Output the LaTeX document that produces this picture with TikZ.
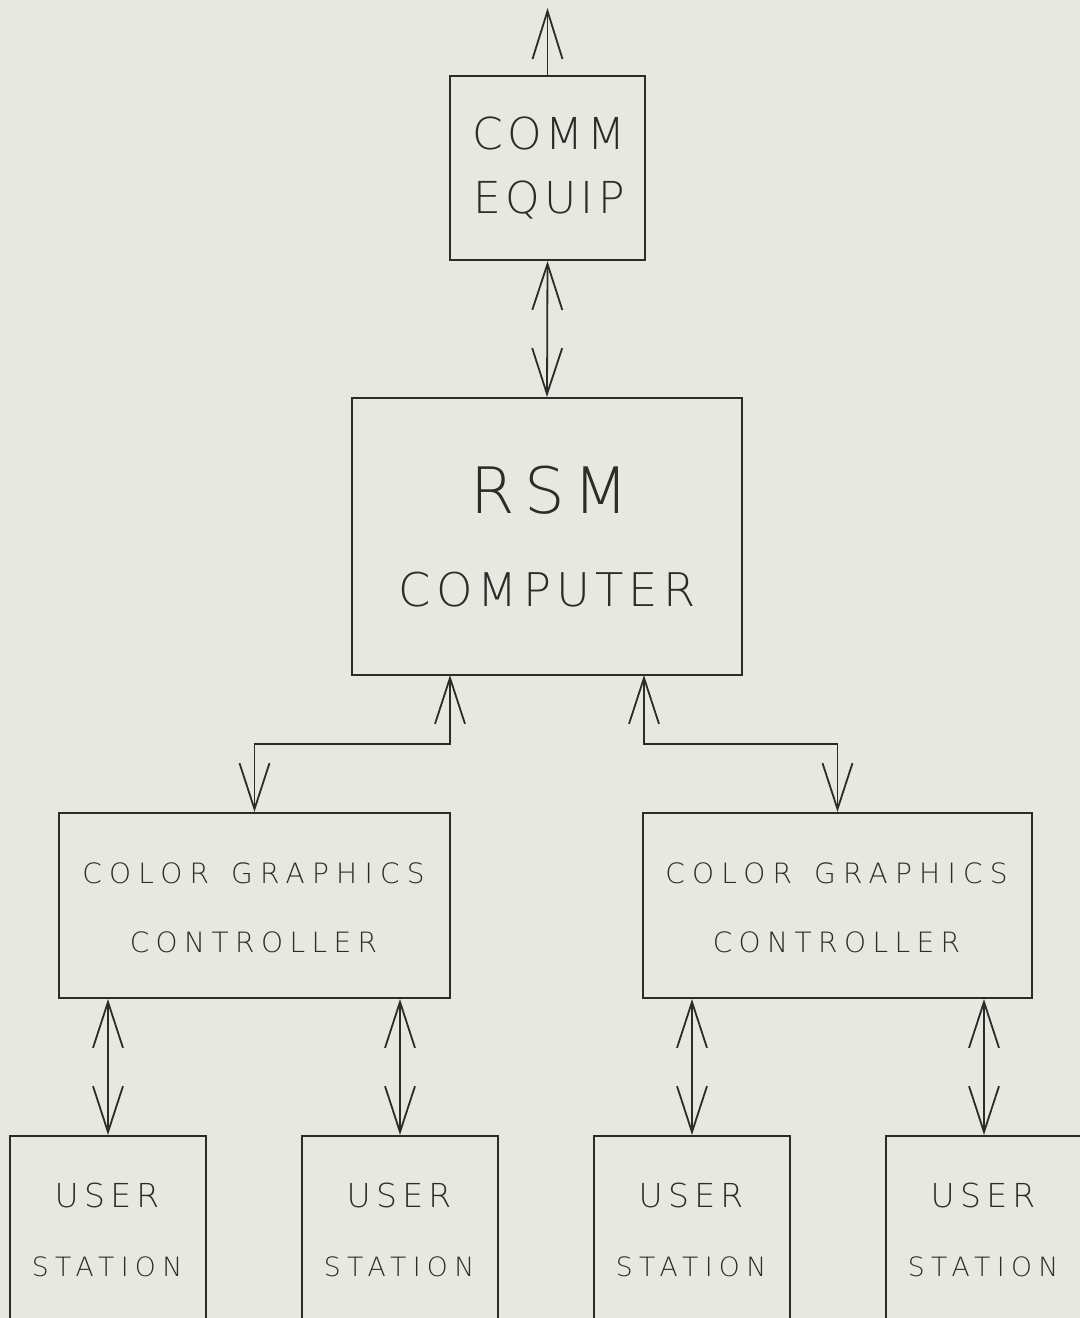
\documentclass[tikz,border=0pt]{standalone}
\usepackage{fontspec}
\setmainfont{DejaVuSans-ExtraLight.ttf}
\usetikzlibrary{arrows.meta}
\definecolor{paper}{HTML}{E7E8DF}
\definecolor{ink}{HTML}{2E2B2B}
\tikzset{
  box/.style={draw=ink, line width=1pt, inner sep=0pt, anchor=center},
  lbl/.style={text=ink, inner sep=0pt, anchor=center},
  conn/.style={draw=ink, line width=0.9pt, {Straight Barb[length=23pt,width=15pt,line width=0.9pt]}-{Straight Barb[length=23pt,width=15pt,line width=0.9pt]}},
  conn1/.style={draw=ink, line width=0.9pt, -{Straight Barb[length=24pt,width=15pt,line width=0.9pt]}}
}
\newcommand{\ls}[2]{\addfontfeature{LetterSpace=#1}#2}
\begin{document}
\begin{tikzpicture}[x=0.5pt,y=-0.5pt]
  \fill[paper] (0,0) rectangle (1080,1318);
  \useasboundingbox (0,0) rectangle (1080,1318);
  \clip (0,0) rectangle (1080,1318);
  % boxes
  \node[box, minimum width=97.5pt, minimum height=92pt] (comm) at (547.5,168) {};
  \node[box, minimum width=195pt, minimum height=138.5pt] (rsm) at (547,536.5) {};
  \node[box, minimum width=195.5pt, minimum height=92.5pt] (cgcL) at (254.5,905.5) {};
  \node[box, minimum width=194.5pt, minimum height=92.5pt] (cgcR) at (837.5,905.5) {};
  \node[box, minimum width=98pt, minimum height=160pt] (u1) at (108,1296) {};
  \node[box, minimum width=98pt, minimum height=160pt] (u2) at (400,1296) {};
  \node[box, minimum width=98pt, minimum height=160pt] (u3) at (692,1296) {};
  \node[box, minimum width=98pt, minimum height=160pt] (u4) at (984,1296) {};
  % texts
  \node[lbl, font=\fontsize{22}{24}\selectfont] (commA) at (549,133) {\ls{9}{COMM}};
  \node[lbl, font=\fontsize{22}{24}\selectfont] (commB) at (549,200) {\ls{10}{EQUIP}};
  \node[lbl, font=\fontsize{32}{34}\selectfont] (rsmA) at (550,490) {\ls{14}{RSM}};
  \node[lbl, font=\fontsize{23.2}{25}\selectfont] (rsmB) at (547,590) {\ls{11}{COMPUTER}};
  \foreach \nm/\cx in {L/253.5, R/836.5} {
    \node[lbl, font=\fontsize{14}{16}\selectfont] (cg1\nm) at (\cx,873) {\ls{26}{COLOR}\hspace{11pt}\ls{26}{GRAPHICS}};
    \node[lbl, font=\fontsize{14}{16}\selectfont] (cg2\nm) at (\cx,942.5) {\ls{23}{CONTROLLER}};
  }
  \foreach \nm/\cx in {1/108, 2/400, 3/692, 4/984} {
    \node[lbl, font=\fontsize{16.5}{18}\selectfont] (us\nm) at (\cx-1,1195) {\ls{16}{USER}};
    \node[lbl, font=\fontsize{13.3}{15}\selectfont] (st\nm) at (\cx-1,1266.5) {\ls{24}{STATION}};
  }
  % connectors
  \coordinate (topend) at (547.5,8);
  \draw[conn1] (comm.north) -- (topend);
  \draw[conn] (comm.south) -- (rsm.north);
  \coordinate (rL) at (450,675);
  \coordinate (rR) at (644,675);
  \draw[conn] (rL) -- ++(0,69) -| (cgcL.north);
  \draw[conn] (rR) -- ++(0,69) -| (cgcR.north);
  \draw[conn] (cgcL.south -| u1.north) -- (u1.north);
  \draw[conn] (cgcL.south -| u2.north) -- (u2.north);
  \draw[conn] (cgcR.south -| u3.north) -- (u3.north);
  \draw[conn] (cgcR.south -| u4.north) -- (u4.north);
\end{tikzpicture}
\end{document}
